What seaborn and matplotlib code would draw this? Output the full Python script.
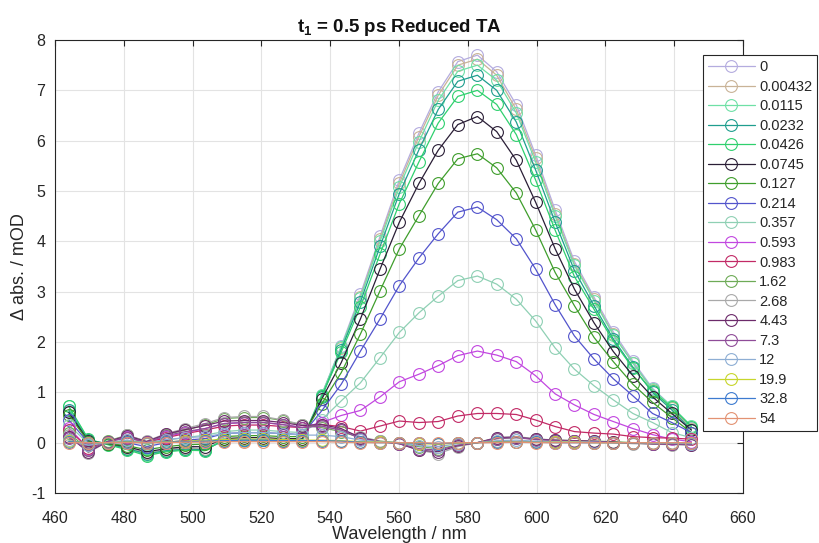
import numpy as np
import pandas as pd
import matplotlib
matplotlib.use("Agg")
import matplotlib.pyplot as plt
import seaborn as sns

sns.set_theme(style="white")
plt.rcParams['font.family'] = ['Liberation Sans', 'DejaVu Sans']
plt.rcParams['mathtext.fontset'] = 'custom'
plt.rcParams['mathtext.rm'] = 'Liberation Sans'
plt.rcParams['mathtext.bf'] = 'Liberation Sans:bold'
plt.rcParams['axes.unicode_minus'] = False

wavelength = [464.0, 469.7, 475.3, 481.0, 486.6, 492.3, 497.9, 503.6, 509.2, 514.9, 520.6,
              526.2, 531.9, 537.5, 543.2, 548.8, 554.5, 560.1, 565.8, 571.4, 577.1, 582.8,
              588.4, 594.1, 599.7, 605.4, 611.0, 616.7, 622.3, 628.0, 633.7, 639.3, 645.0]

labels = ["0", "0.00432", "0.0115", "0.0232", "0.0426", "0.0745", "0.127", "0.214", "0.357",
          "0.593", "0.983", "1.62", "2.68", "4.43", "7.3", "12", "19.9", "32.8", "54"]

colors = ["#b4acdf", "#c9b397", "#6fe0a6", "#1f9e8e", "#2fd06e", "#2a1e36", "#3f9e2c",
          "#5254cc", "#8fd0b4", "#c247e0", "#c22a66", "#6eab57", "#a9a9a9", "#6c2a6a",
          "#8f4c98", "#8eaed4", "#c7d62c", "#3d7bd0", "#e39272"]

s_0 = [0.62, 0.02, -0.02, -0.10, -0.20, -0.14, -0.10, -0.12, 0.03, 0.05, 0.05, 0.04, 0.06,
       0.95, 1.92, 2.95, 4.10, 5.22, 6.15, 6.97, 7.57, 7.70, 7.37, 6.71, 5.72, 4.62, 3.60,
       2.89, 2.20, 1.62, 1.08, 0.72, 0.30]
s_00432 = [0.60, 0.00, -0.03, -0.11, -0.21, -0.15, -0.11, -0.13, 0.03, 0.04, 0.05, 0.04, 0.05,
           0.93, 1.88, 2.90, 4.05, 5.15, 6.08, 6.90, 7.50, 7.62, 7.30, 6.62, 5.65, 4.55, 3.55,
           2.85, 2.15, 1.58, 1.04, 0.68, 0.28]
s_0115 = [0.72, 0.06, -0.03, -0.13, -0.24, -0.17, -0.14, -0.15, 0.06, 0.06, 0.06, 0.04, 0.06,
          0.95, 1.90, 2.88, 4.00, 5.08, 5.98, 6.80, 7.38, 7.50, 7.20, 6.55, 5.58, 4.50, 3.52,
          2.82, 2.14, 1.58, 1.06, 0.72, 0.33]
s_0232 = [0.65, 0.05, -0.02, -0.12, -0.22, -0.16, -0.13, -0.14, 0.05, 0.06, 0.06, 0.04, 0.05,
          0.90, 1.85, 2.80, 3.90, 4.95, 5.82, 6.62, 7.18, 7.30, 7.00, 6.37, 5.42, 4.38, 3.42,
          2.72, 2.06, 1.50, 1.00, 0.65, 0.25]
s_0426 = [0.72, 0.07, -0.04, -0.14, -0.26, -0.18, -0.15, -0.16, 0.07, 0.06, 0.06, 0.05, 0.06,
          0.92, 1.80, 2.70, 3.75, 4.75, 5.58, 6.35, 6.88, 7.00, 6.72, 6.12, 5.22, 4.22, 3.30,
          2.65, 2.02, 1.48, 1.02, 0.70, 0.32]
s_0745 = [0.60, 0.03, -0.02, -0.08, -0.18, -0.12, -0.08, -0.08, 0.08, 0.10, 0.10, 0.08, 0.08,
          0.86, 1.59, 2.46, 3.45, 4.38, 5.15, 5.81, 6.32, 6.48, 6.18, 5.61, 4.78, 3.85, 3.05,
          2.38, 1.81, 1.33, 0.91, 0.58, 0.25]
s_127 = [0.55, 0.02, -0.02, -0.06, -0.14, -0.08, -0.04, -0.03, 0.12, 0.14, 0.14, 0.12, 0.12,
         0.77, 1.39, 2.16, 3.02, 3.85, 4.51, 5.15, 5.64, 5.74, 5.46, 4.96, 4.23, 3.38, 2.72,
         2.09, 1.61, 1.16, 0.80, 0.50, 0.20]
s_214 = [0.45, 0.00, 0.00, 0.00, -0.08, 0.00, 0.05, 0.08, 0.18, 0.20, 0.20, 0.18, 0.16,
         0.63, 1.16, 1.82, 2.46, 3.12, 3.67, 4.15, 4.58, 4.68, 4.43, 4.05, 3.45, 2.74, 2.12,
         1.66, 1.27, 0.93, 0.58, 0.40, 0.20]
s_357 = [0.35, -0.02, 0.00, 0.05, -0.03, 0.05, 0.10, 0.15, 0.22, 0.25, 0.25, 0.22, 0.20,
         0.45, 0.83, 1.19, 1.69, 2.19, 2.58, 2.91, 3.22, 3.31, 3.15, 2.85, 2.42, 1.88, 1.46,
         1.13, 0.85, 0.58, 0.40, 0.20, 0.10]
s_593 = [0.30, -0.12, 0.02, 0.12, 0.00, 0.12, 0.20, 0.28, 0.38, 0.40, 0.40, 0.36, 0.30,
         0.40, 0.54, 0.64, 0.91, 1.21, 1.36, 1.53, 1.73, 1.82, 1.74, 1.61, 1.33, 0.97, 0.75,
         0.56, 0.42, 0.28, 0.16, 0.07, 0.02]
s_983 = [0.25, -0.10, 0.02, 0.10, 0.00, 0.10, 0.18, 0.25, 0.33, 0.35, 0.35, 0.32, 0.30,
         0.36, 0.32, 0.23, 0.33, 0.43, 0.40, 0.42, 0.53, 0.58, 0.58, 0.56, 0.45, 0.32, 0.22,
         0.19, 0.17, 0.12, 0.10, 0.09, 0.07]
s_162 = [0.20, -0.15, 0.03, 0.15, 0.02, 0.16, 0.25, 0.35, 0.48, 0.50, 0.50, 0.44, 0.35,
         0.30, 0.22, 0.10, 0.03, 0.00, -0.08, -0.12, -0.05, 0.00, 0.08, 0.10, 0.07, 0.05, 0.04,
         0.03, 0.02, 0.00, -0.02, -0.02, -0.03]
s_268 = [0.15, -0.20, 0.02, 0.15, 0.03, 0.18, 0.28, 0.38, 0.50, 0.52, 0.52, 0.45, 0.36,
         0.32, 0.25, 0.12, 0.03, -0.02, -0.15, -0.22, -0.08, 0.00, 0.10, 0.12, 0.08, 0.05, 0.03,
         0.02, 0.00, -0.02, -0.03, -0.04, -0.05]
s_443 = [0.12, -0.18, 0.02, 0.14, 0.02, 0.17, 0.26, 0.34, 0.43, 0.44, 0.44, 0.40, 0.34,
         0.36, 0.28, 0.10, 0.02, -0.02, -0.15, -0.18, -0.06, 0.00, 0.10, 0.11, 0.07, 0.05, 0.04,
         0.03, 0.01, -0.01, -0.02, -0.03, -0.04]
s_73 = [0.10, -0.15, 0.02, 0.10, 0.01, 0.14, 0.22, 0.28, 0.38, 0.40, 0.40, 0.36, 0.30,
        0.33, 0.25, 0.08, 0.02, -0.02, -0.12, -0.15, -0.05, 0.00, 0.08, 0.10, 0.06, 0.04, 0.03,
        0.02, 0.00, -0.01, -0.02, -0.03, -0.03]
s_12 = [0.05, -0.05, 0.00, 0.05, 0.00, 0.06, 0.10, 0.12, 0.18, 0.20, 0.20, 0.18, 0.15,
        0.15, 0.12, 0.05, 0.02, 0.00, -0.06, -0.08, -0.02, 0.00, 0.04, 0.05, 0.03, 0.02, 0.02,
        0.01, 0.00, 0.00, -0.01, -0.01, -0.02]
s_199 = [0.03, 0.00, 0.00, 0.02, 0.00, 0.02, 0.03, 0.05, 0.06, 0.07, 0.07, 0.06, 0.05,
         0.05, 0.04, 0.02, 0.01, 0.00, -0.02, -0.03, -0.01, 0.00, 0.02, 0.02, 0.01, 0.01, 0.01,
         0.00, 0.00, 0.00, 0.00, 0.00, 0.00]
s_328 = [0.02, 0.00, 0.00, 0.01, 0.00, 0.01, 0.02, 0.03, 0.04, 0.05, 0.05, 0.04, 0.04,
         0.04, 0.03, 0.01, 0.00, 0.00, -0.01, -0.02, 0.00, 0.00, 0.01, 0.01, 0.01, 0.00, 0.00,
         0.00, 0.00, 0.00, 0.00, 0.00, 0.00]
s_54 = [0.00, 0.00, 0.00, 0.00, 0.00, 0.00, 0.01, 0.01, 0.02, 0.02, 0.02, 0.02, 0.02,
        0.02, 0.01, 0.00, 0.00, 0.00, 0.00, -0.01, 0.00, 0.00, 0.00, 0.01, 0.00, 0.00, 0.00,
        0.00, 0.00, 0.00, 0.00, 0.00, 0.00]

series = [s_0, s_00432, s_0115, s_0232, s_0426, s_0745, s_127, s_214, s_357, s_593, s_983,
          s_162, s_268, s_443, s_73, s_12, s_199, s_328, s_54]

fig = plt.figure(figsize=(8.2, 5.43), dpi=100)
ax = fig.add_axes([55 / 820, 1 - 493 / 543, (743 - 55) / 820, (493 - 40) / 543])

for lab, col, vals in zip(labels, colors, series):
    df = pd.DataFrame({"wl": wavelength, "v": vals})
    sns.lineplot(data=df, x="wl", y="v", ax=ax, color=col, lw=0.9, marker="o",
                 markersize=8.5, markerfacecolor="none", markeredgecolor=col,
                 markeredgewidth=0.8, label=lab)

ax.set_xlim(460, 660)
ax.set_ylim(-1, 8)
ax.set_xticks(np.arange(460, 661, 20))
ax.set_yticks(np.arange(-1, 9, 1))
ax.grid(True, color="#e3e3e3", lw=0.8)
ax.set_axisbelow(True)
ax.tick_params(direction="in", top=True, right=True, length=4, labelsize=11.5,
               colors="#262626", width=0.8)
ax.tick_params(axis="x", pad=13)
ax.tick_params(axis="y", pad=7)
for sp in ax.spines.values():
    sp.set_color("#262626")
    sp.set_linewidth(0.8)

ax.set_xlabel("Wavelength / nm", fontsize=13, color="#262626", labelpad=0)
ax.set_ylabel("\u0394 abs. / mOD", fontsize=13, color="#262626")
ax.yaxis.set_label_coords(-0.039, 0.5)
ax.set_title(r"$\mathbf{t_1}$ = 0.5 ps Reduced TA", fontsize=13.5, fontweight="bold",
             color="#111111", pad=6)

leg = ax.legend(loc="upper left", bbox_to_anchor=(703 / 820, 1 - 55 / 543),
                bbox_transform=fig.transFigure, borderaxespad=0, fontsize=10.5,
                frameon=True, fancybox=False, framealpha=1, edgecolor="#262626",
                handlelength=3.2, handletextpad=0.3, labelspacing=0.38, borderpad=0.35)
leg.get_frame().set_linewidth(0.8)

fig.savefig("out.png", dpi=100)
